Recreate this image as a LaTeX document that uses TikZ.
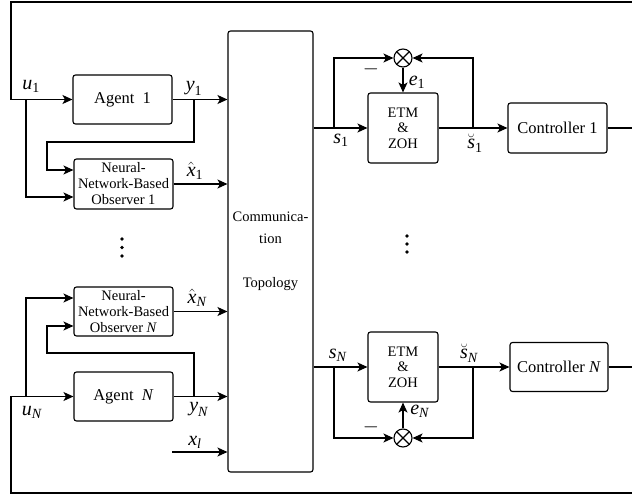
\documentclass[tikz,border=0pt]{standalone}
\usepackage{amsmath,amssymb}
\usepackage{fontspec}
\setmainfont{Liberation Serif}
\usetikzlibrary{arrows.meta,calc}

\newcommand{\sg}[2]{$\textit{#1}_{\text{#2}}$}

\tikzset{
  blk/.style={draw, rounded corners=2.5pt, line width=1.1pt, align=center, inner sep=0pt},
  bigtxt/.style={font=\fontsize{16.5}{19}\selectfont},
  smalltxt/.style={font=\fontsize{14.5}{16}\selectfont},
  lbl/.style={font=\fontsize{20}{22}\selectfont, inner sep=0pt},
  sig/.style={line width=1.1pt, -{Stealth[length=10pt,width=9pt,inset=2.5pt]}},
  sumc/.style={draw, circle, line width=1.1pt, minimum size=18pt, inner sep=0pt,
    path picture={\draw[line width=1.1pt]
      (path picture bounding box.north west) -- (path picture bounding box.south east)
      (path picture bounding box.north east) -- (path picture bounding box.south west);}}
}

\begin{document}
\begin{tikzpicture}[x=1pt,y=-1pt]
\useasboundingbox (0,0) rectangle (632,497);

% agents and observers
\node[blk, bigtxt, minimum width=99, minimum height=49] (ag1) at (122.5,99.5) {Agent\ \ 1};
\node[blk, smalltxt, minimum width=99, minimum height=50] (ob1) at (123.5,184) {Neural-\\Network-Based\\Observer 1};
\node[blk, smalltxt, minimum width=99, minimum height=49] (obN) at (123.5,311.5) {Neural-\\Network-Based\\Observer \textit{N}};
\node[blk, bigtxt, minimum width=99, minimum height=49] (agN) at (123.5,396.5) {Agent\ \ \textit{N}};

% communication block
\node[blk, font=\fontsize{14.5}{22}\selectfont, minimum width=85, minimum height=441] (comm) at (270.5,251.5)
  {Communica-\\tion\\[22pt]Topology};

% ETM, controllers, comparators
\node[blk, font=\fontsize{14.5}{15.5}\selectfont, minimum width=70, minimum height=70] (etm1) at (403,128) {ETM\\\&\\ZOH};
\node[blk, font=\fontsize{14.5}{15.5}\selectfont, minimum width=70, minimum height=70] (etmN) at (403,367) {ETM\\\&\\ZOH};
\node[blk, bigtxt, minimum width=99, minimum height=50] (ctl1) at (557.5,128) {Controller 1};
\node[blk, bigtxt, minimum width=98, minimum height=49] (ctlN) at (559,367) {Controller \textit{N}};
\node[sumc] (sum1) at (403,58) {};
\node[sumc] (sumN) at (403,438) {};

% branch points
\coordinate (u1) at (26,99.5);
\coordinate (y1) at (194,99.5);
\coordinate (uN) at (26,396.5);
\coordinate (yN) at (194,396.5);
\coordinate (xl) at (172,452);
\coordinate (s1) at (334,128);
\coordinate (sN) at (334,367);
\coordinate (sb1) at (473,128);
\coordinate (sbN) at (473,367);

% loops back to the agents
\draw[sig] (ctl1.east) -- (634,128) -- (634,2) -- (11,2) -- (11,99.5) -- (ag1.west);
\draw[sig] (ctlN.east) -- (634,367) -- (634,493) -- (11,493) -- (11,396.5) -- (agN.west);

% left side
\draw[sig] (u1) |- ($(ob1.west)+(0,13)$);
\draw[sig] (y1) -- (194,142) -- (47,142) |- ($(ob1.west)+(0,-14)$);
\draw[sig] (ag1.east) -- (ag1.east -| comm.west);
\draw[sig] (ob1.east) -- (ob1.east -| comm.west);
\draw[sig] (uN) |- ($(obN.west)+(0,-13.5)$);
\draw[sig] (yN) -- (194,353) -- (47,353) |- ($(obN.west)+(0,14.5)$);
\draw[sig] (agN.east) -- (agN.east -| comm.west);
\draw[sig] (obN.east) -- (obN.east -| comm.west);
\draw[sig] (xl) -- (xl -| comm.west);

% right side
\draw[sig] (comm.east |- etm1.west) -- (etm1.west);
\draw[sig] (s1) |- (sum1.west);
\draw[sig] (sum1.south) -- (etm1.north);
\draw[sig] (etm1.east) -- (ctl1.west);
\draw[sig] (sb1) |- (sum1.east);
\draw[sig] (comm.east |- etmN.west) -- (etmN.west);
\draw[sig] (sN) |- (sumN.west);
\draw[sig] (sumN.north) -- (etmN.south);
\draw[sig] (etmN.east) -- (ctlN.west);
\draw[sig] (sbN) |- (sumN.east);

% signal labels
\node[lbl] (lu1) at (31,86) {\sg{u}{1}};
\node[lbl] (ly1) at (194,88) {\sg{y}{1}};
\node[lbl] (lx1) at (195,171) {$\hat{\textit{x}}_{\text{1}}$};
\node[lbl] (lxN) at (197,298) {$\hat{\textit{x}}_{\textit{N}}$};
\node[lbl] (luN) at (32,412) {\sg{u}{\textit{N}}};
\node[lbl] (lyN) at (199,409) {\sg{y}{\textit{N}}};
\node[lbl] (lxl) at (195,442) {\sg{x}{\textit{l}}};
\node[lbl] (ls1) at (341,140) {\sg{s}{1}};
\node[lbl] (lsN) at (338,355) {\sg{s}{\textit{N}}};
\node[lbl] (le1) at (417,82) {\sg{e}{1}};
\node[lbl] (leN) at (420,411) {\sg{e}{\textit{N}}};
\node[lbl] (lsb1) at (475,143) {$\breve{\textit{s}}_{\text{1}}$};
\node[lbl] (lsbN) at (469,353) {$\breve{\textit{s}}_{\textit{N}}$};
\node[lbl] (m1) at (371,69) {$-$};
\node[lbl] (mN) at (371,427) {$-$};

% vertical dots
\foreach \yy in {239,247.5,256} \fill (122,\yy) circle (1.8);
\foreach \yy in {236,244,252} \fill (407,\yy) circle (1.8);
\end{tikzpicture}
\end{document}
